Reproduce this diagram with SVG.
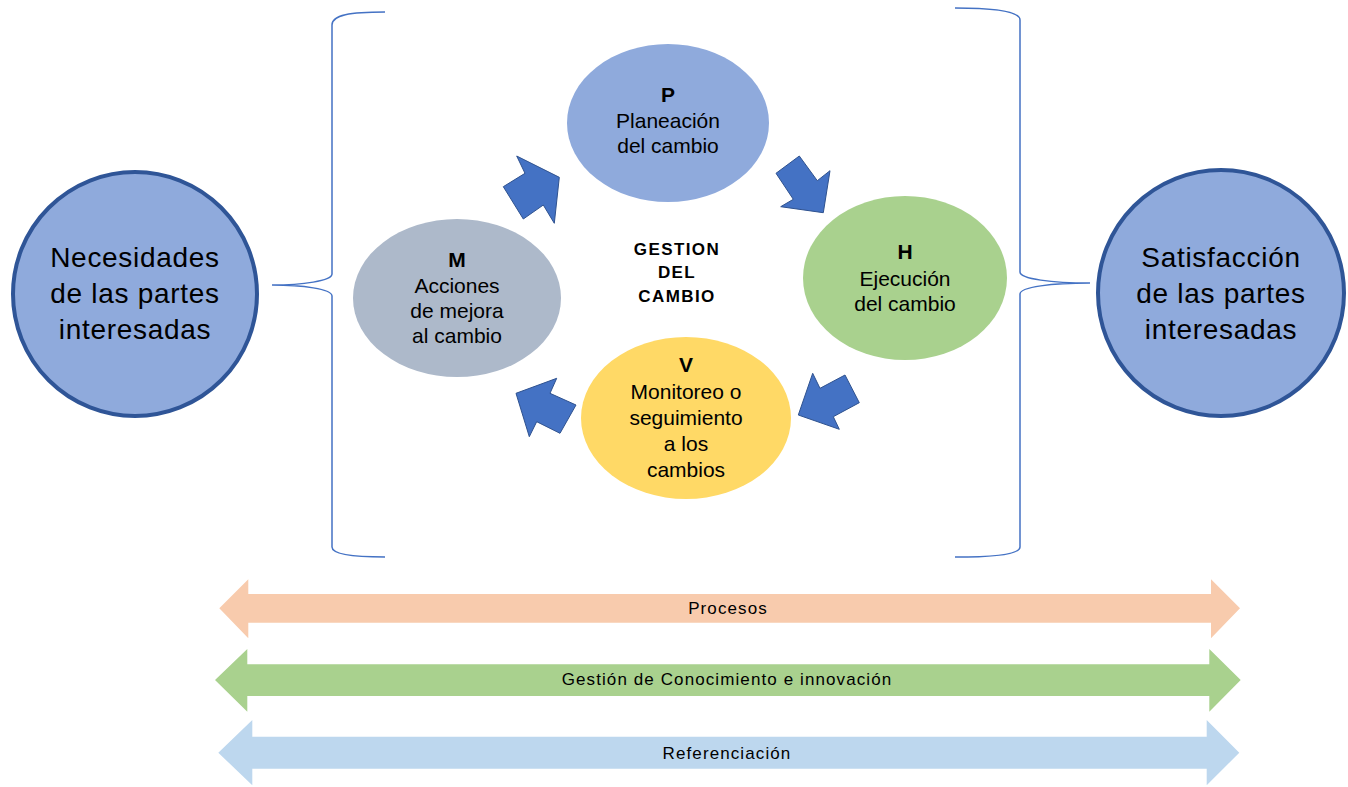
<svg xmlns="http://www.w3.org/2000/svg" width="1348" height="787" viewBox="0 0 1348 787">
<style>
text{font-family:"Liberation Sans",Arial,sans-serif;fill:#000;text-anchor:middle}
.big{font-size:28px;letter-spacing:0.7px}
.el{font-size:21px}
.b{font-weight:bold}
.ctr{font-size:17px;font-weight:bold;letter-spacing:1.4px}
.lbl{font-size:17px;letter-spacing:1.1px}
.brace{fill:none;stroke:#4472C4;stroke-width:1.5}
.blk{fill:#4472C4;stroke:#2F528F;stroke-width:1}
.circ{fill:#8FAADC;stroke:#2F5597;stroke-width:4}
</style>
<rect width="1348" height="787" fill="#fff"/>
<g id="connectors">
<path class="brace" d="M385,12 C350,12 332,15 332,25 L332,274 C332,281 302,285 272,285 C302,285 332,289 332,296 L332,547 C332,554 350,557 385,557"/>
<path class="brace" d="M955,8 C995,8 1020,11 1020,20 L1020,272 C1020,279 1052,283 1090,283 C1052,283 1020,287 1020,294 L1020,547 C1020,554 995,557 955,557"/>
<polygon class="blk" points="516.7,156 559.3,177.3 554.3,223.3 543.3,205 523.3,219 503.3,186.7 525,173.3"/>
<polygon class="blk" points="776,173.3 799.3,156 817.3,180.7 830,170.7 823.3,212.7 780.7,206.7 793.3,199.3"/>
<polygon class="blk" points="812.7,373.3 820,388.3 845,375 859.3,402.7 833.3,416.7 839.3,429.3 798.3,415"/>
<polygon class="blk" points="516,393.3 556.7,378.3 550,393.3 576,405 560,433.3 536.7,421.7 529.3,436.7"/>
</g>
<g id="n-necesidades">
<circle class="circ" cx="135" cy="294" r="122"/>
<text class="big" x="135" y="267">Necesidades</text>
<text class="big" x="135" y="303">de las partes</text>
<text class="big" x="135" y="339">interesadas</text>
</g>
<g id="n-satisfaccion">
<circle class="circ" cx="1221" cy="293" r="123"/>
<text class="big" x="1221" y="267">Satisfacción</text>
<text class="big" x="1221" y="303">de las partes</text>
<text class="big" x="1221" y="339">interesadas</text>
</g>
<g id="n-p">
<ellipse cx="668" cy="123" rx="101" ry="79" fill="#8FAADC"/>
<text class="el b" x="668" y="102">P</text>
<text class="el" x="668" y="128">Planeación</text>
<text class="el" x="668" y="153">del cambio</text>
</g>
<g id="n-h">
<ellipse cx="905" cy="278" rx="102" ry="82" fill="#A9D18E"/>
<text class="el b" x="905" y="259">H</text>
<text class="el" x="905" y="286">Ejecución</text>
<text class="el" x="905" y="311">del cambio</text>
</g>
<g id="n-v">
<ellipse cx="686" cy="418" rx="105" ry="81" fill="#FFD966"/>
<text class="el b" x="686" y="372">V</text>
<text class="el" x="686" y="399">Monitoreo o</text>
<text class="el" x="686" y="425">seguimiento</text>
<text class="el" x="686" y="451">a los</text>
<text class="el" x="686" y="477">cambios</text>
</g>
<g id="n-m">
<ellipse cx="457" cy="298" rx="104" ry="79" fill="#ADB9CA"/>
<text class="el b" x="457" y="267">M</text>
<text class="el" x="457" y="293">Acciones</text>
<text class="el" x="457" y="318">de mejora</text>
<text class="el" x="457" y="343">al cambio</text>
</g>
<g id="n-gestion">
<text class="ctr" x="677" y="255">GESTION</text>
<text class="ctr" x="677" y="278">DEL</text>
<text class="ctr" x="677" y="302">CAMBIO</text>
</g>
<g id="n-procesos">
<polygon fill="#F8CBAD" points="219.3,608.3 248.3,579.3 248.3,594 1211,594 1211,579.3 1240,608.3 1211,638.3 1211,622.7 248.3,622.7 248.3,638.3"/>
<text class="lbl" x="728" y="614">Procesos</text>
</g>
<g id="n-gestion-conocimiento">
<polygon fill="#A9D18E" points="215,680 247.3,649 247.3,664.3 1209.3,664.3 1209.3,649 1240.7,680 1209.3,711.7 1209.3,696 247.3,696 247.3,711.7"/>
<text class="lbl" x="727" y="685">Gestión de Conocimiento e innovación</text>
</g>
<g id="n-referenciacion">
<polygon fill="#BDD7EE" points="218.3,752.7 252.3,720 252.3,736.7 1206.7,736.7 1206.7,720 1239.3,752.7 1206.7,785.3 1206.7,768.7 252.3,768.7 252.3,785.3"/>
<text class="lbl" x="727" y="759">Referenciación</text>
</g>
</svg>
